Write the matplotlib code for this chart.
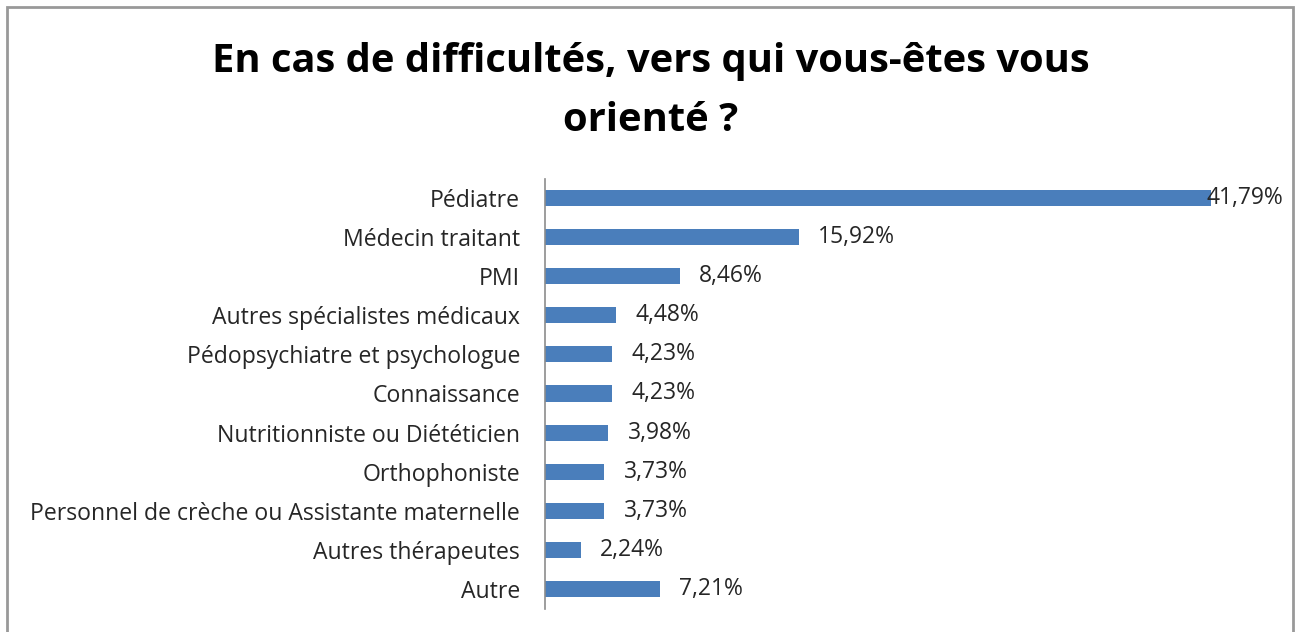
import matplotlib.pyplot as plt
from matplotlib.patches import Rectangle

categories = [
    "Pédiatre",
    "Médecin traitant",
    "PMI",
    "Autres spécialistes médicaux",
    "Pédopsychiatre et psychologue",
    "Connaissance",
    "Nutritionniste ou Diététicien",
    "Orthophoniste",
    "Personnel de crèche ou Assistante maternelle",
    "Autres thérapeutes",
    "Autre",
]
values = [41.79, 15.92, 8.46, 4.48, 4.23, 4.23, 3.98, 3.73, 3.73, 2.24, 7.21]
title = "En cas de difficultés, vers qui vous-êtes vous\norienté ?"

BAR_COLOR = "#4A7EBB"
TEXT_COLOR = "#262626"
W, H = 1302, 632

plt.rcParams["font.family"] = ["Open Sans", "DejaVu Sans"]

fig = plt.figure(figsize=(W / 100, H / 100), dpi=100)

# chart frame
fig.patches.append(Rectangle((7 / W, -0.1), (1293 - 7) / W, 1.1 - 7 / H,
                             transform=fig.transFigure, fill=False,
                             edgecolor="#999999", linewidth=2))

fig.text(0.5, 1 - 91 / H, title, ha="center", va="center", fontsize=28.7,
         fontweight="bold", color="black", linespacing=1.68)

left, right = 545 / W, 1283 / W
ax = fig.add_axes([left, 1 - 608.5 / H, right - left, 430 / H])

y = list(range(len(categories)))
ax.barh(y, values, height=0.41, color=BAR_COLOR)
ax.set_ylim(len(categories) - 0.5, -0.5)
px_per_unit = 15.94
xmax = (1283 - 545) / px_per_unit
ax.set_xlim(0, xmax)

ax.set_yticks(y)
ax.set_yticklabels(categories, fontsize=16.6, color=TEXT_COLOR)
ax.tick_params(axis="y", length=0, pad=18)
ax.set_xticks([])
for side in ("top", "right", "bottom"):
    ax.spines[side].set_visible(False)
ax.spines["left"].set_color("#8C8C8C")
ax.spines["left"].set_linewidth(1.2)

# value labels, kept inside the plot area
fig.canvas.draw()
renderer = fig.canvas.get_renderer()
ax_right = ax.get_window_extent(renderer).x1
for yi, v in zip(y, values):
    lab = f"{v:.2f}%".replace(".", ",")
    t = ax.text(v + 19 / px_per_unit, yi, lab, va="center", ha="left",
                fontsize=16.5, color=TEXT_COLOR)
    if t.get_window_extent(renderer).x1 > ax_right:
        t.set_x(xmax)
        t.set_ha("right")

fig.savefig("out.png", dpi=100)
